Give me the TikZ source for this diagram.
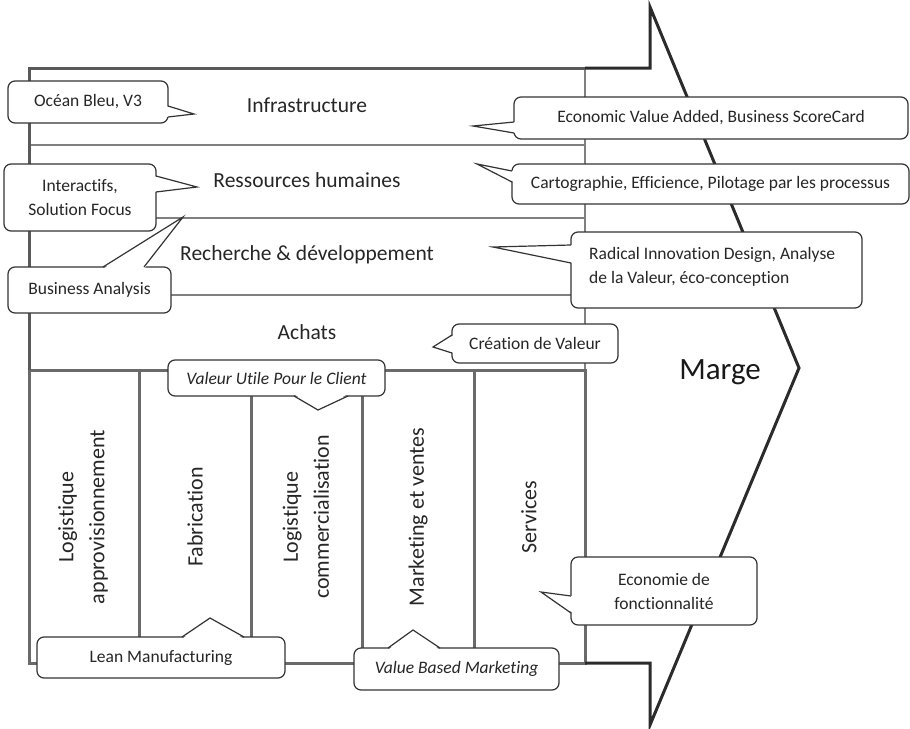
\documentclass[tikz,border=0pt]{standalone}
\usepackage{fontspec}
\setmainfont{Carlito}[Ligatures=NoCommon]
\usetikzlibrary{calc}
\definecolor{frameC}{HTML}{595959}
\definecolor{primC}{HTML}{6A6A6A}
\definecolor{suppC}{HTML}{808080}
\definecolor{chevC}{HTML}{2B2B2B}
\definecolor{boxC}{HTML}{333333}
\tikzset{
  framelines/.style={draw=frameC,line width=3pt},
  primlines/.style={draw=primC,line width=3pt},
  supplines/.style={draw=suppC,line width=1.8pt},
  chevlines/.style={draw=chevC,line width=3pt,line join=miter},
  sectlabel/.style={font=\fontsize{21.5}{25}\selectfont,text=black!85,inner sep=0pt},
  colllabel/.style={font=\fontsize{22}{31}\selectfont,text=black!85,inner sep=0pt,rotate=90,align=center},
  callbox/.style={draw=boxC,line width=1.2pt,fill=white,rounded corners=7pt,inner sep=0pt,
    font=\fontsize{17.5}{24}\selectfont,text=black!85,align=center},
  ptrfill/.style={fill=white},
  ptrline/.style={draw=boxC,line width=1.2pt,line join=miter},
}
\begin{document}
\begin{tikzpicture}[x=1pt,y=-1pt]
\useasboundingbox (0,0) rectangle (910,728);
% coordinates of the frame
\coordinate (tl) at (29,68);
\coordinate (tm) at (585,68);
\coordinate (tr) at (650,68);
\coordinate (ttop) at (650,7);
\coordinate (tip) at (799,368);
\coordinate (tbot) at (650,725);
\coordinate (br) at (650,663);
\coordinate (bm) at (585,663);
\coordinate (bl) at (29,663);
\coordinate (ml) at (29,370);
\coordinate (mm) at (585,370);
% support activity lines
\draw[supplines] (29,145) -- (585,145);
\draw[supplines] (29,218) -- (585,218);
\draw[supplines] (29,295) -- (585,295);
\draw[supplines] (tm) -- (mm);
% primary activity frame
\draw[primlines] (ml) rectangle (bm);
\foreach \xx in {139,251,362,474} {\draw[primlines] (\xx,370) -- (\xx,663);}
% outer frame
\draw[framelines] (ml) -- (tl) -- (tm);
\draw[chevlines] (bm) -- (br) -- (tbot) -- (tip) -- (ttop) -- (tr) -- (tm);
% section labels
\node[sectlabel] (infra) at (307,105) {Infrastructure};
\node[sectlabel] (rh) at (307,180) {Ressources humaines};
\node[sectlabel] (rd) at (307,255) {Recherche \& développement};
\node[sectlabel] (achats) at (307,332) {Achats};
\node[colllabel] (logapp) at (83,517) {Logistique\\approvisionnement};
\node[colllabel] (fab) at (195,517) {Fabrication};
\node[colllabel] (logcom) at (306,517) {Logistique\\commercialisation};
\node[colllabel] (mkt) at (418,517) {Marketing et ventes};
\node[colllabel] (serv) at (529,517) {Services};
\node[font=\fontsize{31}{36}\selectfont,text=black!90,inner sep=0pt] (marge) at (720,372) {Marge};
% ---------- callouts ----------
% Ocean Bleu
\node[callbox,minimum width=160pt,minimum height=42pt] (ocean) at (88,102) {Océan Bleu, V3};
\coordinate (oceantip) at (194,114);
\fill[ptrfill] (166,106) -- (oceantip) -- (166,117) -- cycle;
\draw[ptrline] (168,106) -- (oceantip) -- (168,117);
% Interactifs
\node[callbox,minimum width=152pt,minimum height=67pt] (inter) at (80,197.5) {Interactifs,\\Solution Focus};
\coordinate (intertip) at (197,187);
\fill[ptrfill] (154,176) -- (intertip) -- (154,192) -- cycle;
\draw[ptrline] (156,176) -- (intertip) -- (156,192);
% Business Analysis
\node[callbox,minimum width=163pt,minimum height=46pt] (busan) at (89.5,290) {Business Analysis};
\coordinate (busantip) at (183,217);
\fill[ptrfill] (103,269) -- (busantip) -- (144,269) -- cycle;
\draw[ptrline] (103,267) -- (busantip) -- (144,267);
% Economic Value Added
\node[callbox,minimum width=394pt,minimum height=42pt] (eva) at (711,118) {Economic Value Added, Business ScoreCard};
\coordinate (evatip) at (473,126);
\fill[ptrfill] (516,122) -- (evatip) -- (516,133) -- cycle;
\draw[ptrline] (514,122) -- (evatip) -- (514,133);
% Cartographie
\node[callbox,minimum width=397pt,minimum height=40pt] (carto) at (710.5,184) {Cartographie, Efficience, Pilotage par les processus};
\coordinate (cartotip) at (477,164);
\fill[ptrfill] (514,171) -- (cartotip) -- (514,182) -- cycle;
\draw[ptrline] (512,171) -- (cartotip) -- (512,182);
% Radical Innovation
\node[callbox,minimum width=291pt,minimum height=76pt] (radical) at (716.5,270) {};
\node[font=\fontsize{17.5}{24}\selectfont,text=black!85,align=left,inner sep=0pt,anchor=west] (radtxt) at (589,267) {Radical Innovation Design, Analyse\\de la Valeur, éco-conception};
\coordinate (radicaltip) at (493,247);
\fill[ptrfill] (573,245) -- (radicaltip) -- (573,263) -- cycle;
\draw[ptrline] (571,245) -- (radicaltip) -- (571,263);
% Creation de Valeur
\node[callbox,minimum width=166pt,minimum height=39pt] (creation) at (535,343.5) {Création de Valeur};
\coordinate (creationtip) at (433,347);
\fill[ptrfill] (454,335) -- (creationtip) -- (454,353) -- cycle;
\draw[ptrline] (452,335) -- (creationtip) -- (452,353);
% Valeur Utile
\node[callbox,minimum width=217pt,minimum height=36pt,font=\fontsize{17.5}{24}\selectfont\itshape] (valeur) at (276.5,378) {Valeur Utile Pour le Client};
\coordinate (valeurtip) at (318,410);
\fill[ptrfill] (294,394) -- (valeurtip) -- (348,394) -- cycle;
\draw[ptrline] (294,396) -- (valeurtip) -- (348,396);
% Economie de fonctionnalite
\node[callbox,minimum width=186pt,minimum height=68pt] (econ) at (664,591) {Economie de\\fonctionnalité};
\coordinate (econtip) at (541,592);
\fill[ptrfill] (573,596) -- (econtip) -- (573,613) -- cycle;
\draw[ptrline] (571,596) -- (econtip) -- (571,613);
% Lean Manufacturing
\node[callbox,minimum width=248pt,minimum height=41pt] (lean) at (161,657.5) {Lean Manufacturing};
\coordinate (leantip) at (210,618);
\fill[ptrfill] (182,639) -- (leantip) -- (244,639) -- cycle;
\draw[ptrline] (182,637) -- (leantip) -- (244,637);
% Value Based Marketing
\node[callbox,minimum width=205pt,minimum height=42pt,font=\fontsize{17.5}{24}\selectfont\itshape] (vbm) at (456.5,669) {Value Based Marketing};
\coordinate (vbmtip) at (413,630);
\fill[ptrfill] (388,650) -- (vbmtip) -- (440,650) -- cycle;
\draw[ptrline] (388,648) -- (vbmtip) -- (440,648);
\end{tikzpicture}
\end{document}
